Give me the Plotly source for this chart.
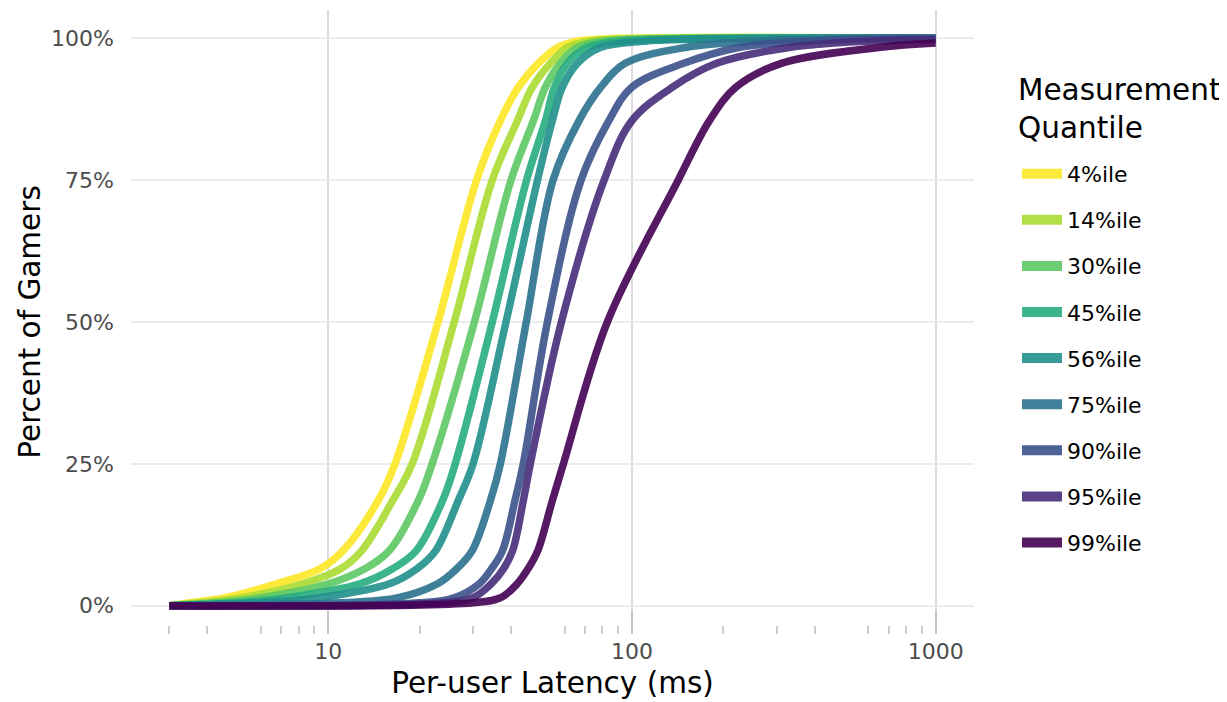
import math
import plotly.graph_objects as go

# ---- data ----
series_names = ["4%ile", "14%ile", "30%ile", "45%ile", "56%ile",
                "75%ile", "90%ile", "95%ile", "99%ile"]
colors = ["#FDE725", "#AADC32", "#5DC863", "#27AD81", "#21908C",
          "#2C728E", "#3B528B", "#472D7B", "#440154"]

# cumulative percent of gamers at which each latency was read
pct_levels = [0, 0.5, 1.4, 3.9, 6.5, 9.7, 18.5, 25, 50, 75, 85.5, 91.4, 95.6, 98.4, 99.5, 100]

# latency (ms) reached at each pct level, one list per series (None = level not reached)
lat_04 = [3, 3.5, 4.6, 6.8, 9.4, 11.2, 14.6, 16.6, 23.0, 30.8, 36.9, 42.3, 49.2, 56.9, 66, 90]
lat_14 = [3, 3.8, 5.2, 8.3, 11.0, 12.9, 16.3, 18.9, 26.0, 34.7, 42.0, 47.0, 53.9, 61.3, 72, 110]
lat_30 = [3, 4.3, 6.0, 10.1, 13.2, 15.9, 19.8, 22.0, 30.3, 40.0, 47.4, 51.9, 58.1, 66.1, 80, 150]
lat_45 = [3, 5.0, 7.3, 12.8, 16.3, 19.5, 23.8, 26.2, 34.7, 45.0, 51.9, 55.6, 61.3, 71.3, 90, 200]
lat_56 = [3, 6.0, 9.4, 16.0, 19.6, 22.6, 26.8, 30.0, 38.5, 48.9, 54.7, 59.0, 66.1, 78.7, 110, 300]
lat_75 = [3, 11, 17, 23.0, 26.5, 29.8, 34.2, 36.9, 44.9, 55.0, 67, 79, 95, 150, 260, 600]
lat_90 = [3, 20, 26, 31.5, 34.5, 37.5, 41.2, 43.9, 52.7, 68.0, 84, 100, 148, 225, 380, 750]
lat_95 = [3, 24, 30, 34.5, 37.8, 40.5, 43.9, 46.3, 58.6, 81.0, 100, 136, 190, 330, 600, None]
lat_99 = [3, 30, 37, 42.0, 45.5, 49.0, 54.7, 59.5, 83, 142, 180, 220, 310, 650, None, None]

# value of each curve at the right end of the data (1000 ms)
end_latency = 1000
end_pct = [100, 100, 100, 100, 100, 100, 100, 99.8, 99.2]

lat_lists = [lat_04, lat_14, lat_30, lat_45, lat_56, lat_75, lat_90, lat_95, lat_99]

y_ticks = [0, 25, 50, 75, 100]
y_labels = ["0%", "25%", "50%", "75%", "100%"]
x_ticks = [10, 100, 1000]
minor_ticks = [3, 4, 6, 7, 8, 9, 20, 30, 40, 60, 70, 80, 90,
               200, 300, 400, 600, 700, 800, 900]
mid_ticks = [5, 50, 500]

FONT = "DejaVu Sans"
TITLE_SIZE = 29.5
TEXT_SIZE = 22

fig = go.Figure()
for name, col, lats, endp in zip(series_names, colors, lat_lists, end_pct):
    xs = [l for l in lats if l is not None]
    ys = [p for l, p in zip(lats, pct_levels) if l is not None]
    xs.append(end_latency)
    ys.append(endp)
    fig.add_trace(go.Scatter(
        x=xs, y=ys, mode="lines", name=name, showlegend=False,
        line=dict(color=col, width=7.5, shape="spline", smoothing=1.0),
        opacity=0.9, hoverinfo="skip"))

# legend keys (thicker, as in the reference legend)
for i, (name, col) in enumerate(zip(series_names, colors)):
    fig.add_trace(go.Scatter(
        x=[None], y=[None], mode="lines", name=name, legendgroup=str(i),
        line=dict(color=col, width=10), opacity=0.9))

xmin = math.log10(3)
xmax = math.log10(1000)
pad = 0.05 * (xmax - xmin)
xrange = [xmin - pad, xmax + pad]

fig.update_layout(
    width=1219, height=694,
    margin=dict(l=123, r=253, t=2, b=68),
    paper_bgcolor="white", plot_bgcolor="white",
    font=dict(family=FONT, color="#000000"),
    xaxis=dict(
        type="log", range=xrange,
        tickmode="array", tickvals=x_ticks, ticktext=[str(v) for v in x_ticks],
        showgrid=True, gridcolor="#DCDCDC", gridwidth=1.6,
        ticks="inside", ticklen=23, tickwidth=2, tickcolor="#C4C4C4",
        minor=dict(tickmode="array", tickvals=minor_ticks, ticks="inside",
                   ticklen=8, tickwidth=2, tickcolor="#CCCCCC", showgrid=False),
        tickfont=dict(family=FONT, size=TEXT_SIZE, color="#4D4D4D"),
        ticklabelstandoff=2,
        showline=False, zeroline=False,
        title=dict(text="Per-user Latency (ms)",
                   font=dict(family=FONT, size=TITLE_SIZE, color="#000000"),
                   standoff=9),
    ),
    xaxis2=dict(
        type="log", range=xrange, overlaying="x", anchor="y", side="bottom",
        tickmode="array", tickvals=mid_ticks, showticklabels=False,
        ticks="inside", ticklen=16, tickwidth=2, tickcolor="#CCCCCC",
        showgrid=False, zeroline=False, showline=False,
    ),
    yaxis=dict(
        range=[-5, 105], tickmode="array", tickvals=y_ticks, ticktext=y_labels,
        showgrid=True, gridcolor="#EBEBEB", gridwidth=2,
        ticks="", zeroline=False, showline=False,
        tickfont=dict(family=FONT, size=TEXT_SIZE, color="#4D4D4D"),
        ticklabelstandoff=16,
        title=dict(text="Percent of Gamers",
                   font=dict(family=FONT, size=TITLE_SIZE, color="#000000"),
                   standoff=1),
    ),
    legend=dict(
        x=1.051, y=0.771, xanchor="left", yanchor="top",
        font=dict(family=FONT, size=TEXT_SIZE, color="#000000"),
        tracegroupgap=14.5, itemwidth=40, bgcolor="rgba(0,0,0,0)",
    ),
    annotations=[dict(
        text="Measurement<br>Quantile", xref="paper", yref="paper",
        x=1.0495, y=0.841, xanchor="left", yanchor="middle", align="left",
        showarrow=False, font=dict(family=FONT, size=TITLE_SIZE, color="#000000"),
    )],
)

fig.write_html("out.html")
